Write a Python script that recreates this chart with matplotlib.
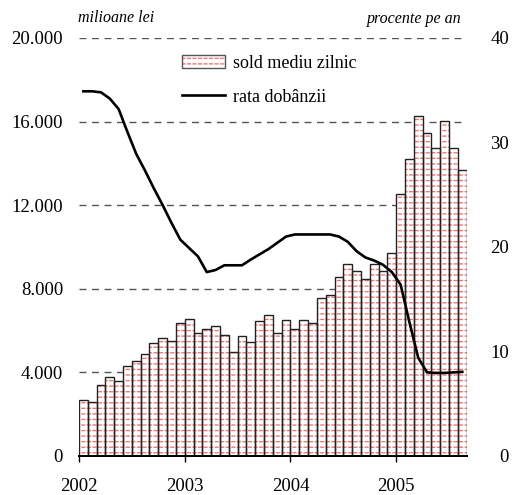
import numpy as np
import matplotlib
matplotlib.use('Agg')
import matplotlib.pyplot as plt
from matplotlib.ticker import FuncFormatter
from matplotlib.patches import Patch

plt.rcParams['font.family'] = ['Liberation Serif', 'DejaVu Serif']
plt.rcParams['hatch.linewidth'] = 1.0

# sold mediu zilnic, milioane lei, ian 2002 - aug 2005
sold = [2665, 2580, 3380, 3765, 3570, 4290, 4545, 4865, 5390, 5630, 5490, 6360,
        6540, 5885, 6060, 6205, 5775, 4960, 5755, 5455, 6445, 6745, 5885, 6490,
        6090, 6490, 6350, 7575, 7690, 8580, 9170, 8870, 8455, 9200, 8835, 9730,
        12520, 14195, 16250, 15440, 14720, 16010, 14720, 13670]
# rata dobanzii, procente pe an
rata = [34.9, 34.9, 34.8, 34.2, 33.2, 31.0, 28.9, 27.3, 25.6, 24.0, 22.3, 20.7,
        19.9, 19.1, 17.6, 17.8, 18.25, 18.25, 18.25, 18.8, 19.3, 19.8, 20.4, 21.0,
        21.2, 21.2, 21.2, 21.2, 21.2, 21.0, 20.5, 19.6, 19.0, 18.7, 18.3, 17.6,
        16.4, 12.8, 9.4, 8.0, 7.95, 7.95, 8.0, 8.05]
ani = ['2002', '2003', '2004', '2005']

luni = np.arange(len(sold))
x = luni + 0.5
roz = '#ee7777'

fig = plt.figure(figsize=(5.13, 4.95), dpi=100)
ax = fig.add_axes([79/513, 39/495, 387.7/513, 418/495])
ax2 = ax.twinx()

# bare: fond alb, linii roz, intreruperi albe, contur negru
ax.bar(x, sold, width=1.0, color='white', linewidth=0, zorder=2)
ax.bar(x, sold, width=1.0, color='none', edgecolor=roz, linewidth=0,
       hatch='---', zorder=2.1)
ax.bar(x, sold, width=1.0, color='none', edgecolor='white', linewidth=0,
       hatch='|||', zorder=2.2)
ax.bar(x, sold, width=1.0, color='none', edgecolor='#222222',
       linewidth=1.0, zorder=2.3)

ax.set_ylim(0, 20000)
ax.set_xlim(0, len(sold))
ax.set_yticks(np.arange(0, 20001, 4000))
ax.yaxis.set_major_formatter(FuncFormatter(lambda v, p: '{:,.0f}'.format(v).replace(',', '.')))
for yv in [4000, 8000, 12000, 16000, 20000]:
    ax.axhline(yv, color='#555555', lw=1.0, ls=(0, (5, 4)), zorder=1)

ax.set_xticks([0, 12, 24, 36])
ax.set_xticklabels(ani)
ax.tick_params(axis='x', direction='out', length=4, width=1, pad=12, labelsize=13.5)
ax.tick_params(axis='y', length=0, pad=11.5, labelsize=13.5)

linie, = ax2.plot(x, rata, color='black', lw=1.9, zorder=3)
ax2.set_ylim(0, 40)
ax2.set_yticks([0, 10, 20, 30, 40])
ax2.tick_params(axis='y', length=0, pad=30.5, labelsize=13.5)
for t in ax2.get_yticklabels():
    t.set_horizontalalignment('right')

for a in (ax, ax2):
    for s in ['top', 'left', 'right']:
        a.spines[s].set_visible(False)
    a.spines['bottom'].set_linewidth(1.4)
    a.spines['bottom'].set_zorder(4)

fig.text(78/513, 1 - 18/495, 'milioane lei', style='italic', fontsize=11.5,
         ha='left', va='center')
fig.text(462/513, 1 - 19/495, 'procente pe an', style='italic', fontsize=11.5,
         ha='right', va='center')

cheie = (Patch(facecolor='white', edgecolor=roz, linewidth=0, hatch='---'),
         Patch(facecolor='none', edgecolor='white', linewidth=0, hatch='|||'),
         Patch(facecolor='none', edgecolor='#555555', linewidth=1.0))
fig.legend([cheie, linie], ['sold mediu zilnic', 'rata dobânzii'],
           loc='upper left', bbox_to_anchor=(182/513, 1 - 55/495),
           frameon=False, fontsize=13, handlelength=2.4,
           handletextpad=0.4, labelspacing=0.92, borderpad=0, borderaxespad=0)

fig.savefig('out.png', dpi=100)
